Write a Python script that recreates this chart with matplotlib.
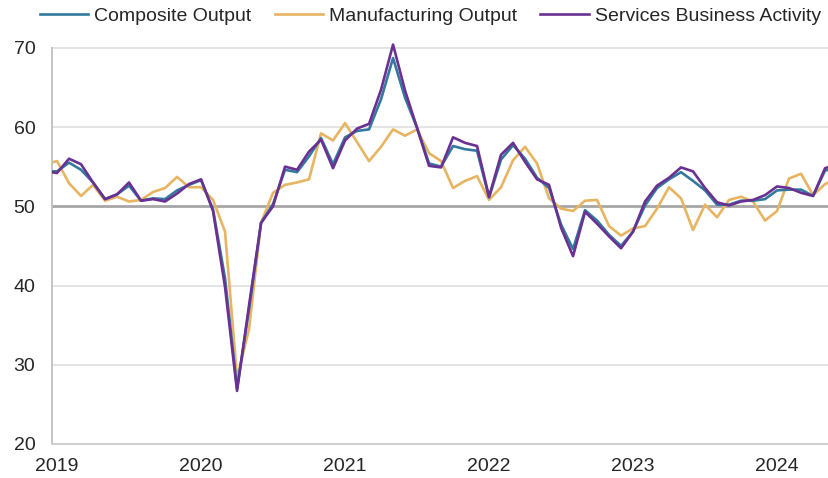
import matplotlib
matplotlib.use("Agg")
import matplotlib.pyplot as plt
import numpy as np

plt.rcParams['font.family'] = ['Liberation Sans', 'DejaVu Sans']

# Monthly series, Dec 2018 .. Jun 2024
composite = [54.4,
    54.4, 55.5, 54.6, 53.0, 50.9, 51.5, 52.6, 50.7, 51.0, 50.9, 52.0, 52.7,
    53.3, 49.6, 40.9, 27.0, 37.0, 47.9, 50.3, 54.6, 54.3, 56.3, 58.6, 55.3,
    58.7, 59.5, 59.7, 63.5, 68.7, 63.7, 59.9, 55.4, 55.0, 57.6, 57.2, 57.0,
    51.1, 55.9, 57.7, 56.0, 53.6, 52.3, 47.7, 44.6, 49.5, 48.2, 46.4, 45.0,
    46.8, 50.1, 52.3, 53.4, 54.3, 53.2, 52.0, 50.2, 50.2, 50.7, 50.7, 50.9,
    52.0, 52.1, 52.1, 51.3, 54.5, 54.8]
manufacturing = [55.3,
    55.7, 52.9, 51.3, 52.7, 50.7, 51.2, 50.6, 50.8, 51.8, 52.3, 53.7, 52.4,
    52.4, 50.8, 46.8, 28.3, 34.5, 47.9, 51.7, 52.7, 53.0, 53.4, 59.2, 58.3,
    60.5, 58.1, 55.7, 57.5, 59.7, 58.9, 59.7, 56.7, 55.7, 52.3, 53.2, 53.8,
    50.8, 52.4, 55.8, 57.5, 55.4, 51.0, 49.7, 49.4, 50.7, 50.8, 47.5, 46.3,
    47.2, 47.5, 49.7, 52.4, 51.0, 47.0, 50.2, 48.6, 50.8, 51.2, 50.6, 48.2,
    49.4, 53.5, 54.1, 51.4, 52.8, 53.5]
services = [54.4,
    54.2, 56.0, 55.3, 53.0, 50.9, 51.5, 53.0, 50.7, 50.9, 50.6, 51.6, 52.8,
    53.4, 49.4, 39.8, 26.7, 37.5, 47.9, 50.0, 55.0, 54.6, 56.9, 58.4, 54.8,
    58.3, 59.8, 60.4, 64.7, 70.4, 64.6, 59.9, 55.1, 54.9, 58.7, 58.0, 57.6,
    51.2, 56.5, 58.0, 55.6, 53.4, 52.7, 47.3, 43.7, 49.3, 47.8, 46.2, 44.7,
    46.8, 50.6, 52.6, 53.6, 54.9, 54.4, 52.3, 50.5, 50.1, 50.6, 50.8, 51.4,
    52.5, 52.3, 51.7, 51.3, 54.8, 55.3]
year_labels = ['2019', '2020', '2021', '2022', '2023', '2024']
y_ticks = [20, 30, 40, 50, 60, 70]

months = np.arange(len(composite)) - 1  # 0 = Jan 2019

fig = plt.figure(figsize=(8.29, 4.78), dpi=100)
ax = fig.add_axes([52/829, 1 - 444/478, 1 - 52/829, (444 - 43)/478])

text_color = '#262626'
for y in [30, 40, 60, 70]:
    ax.axhline(y, color='#e2e2e2', lw=1.3, zorder=0)
ax.axhline(50, color='#a6a6a6', lw=2.0, zorder=1)

lw = 1.9
ax.plot(months, manufacturing, color='#e7b461', lw=lw, label='Manufacturing Output', zorder=2)
ax.plot(months, composite, color='#33799e', lw=lw, label='Composite Output', zorder=3)
ax.plot(months, services, color='#6a3092', lw=lw, label='Services Business Activity', zorder=4)

ax.set_xlim(-0.42, 64.33)
ax.set_ylim(20, 70.6)
ax.set_yticks(y_ticks)
ax.set_yticklabels([str(v) for v in y_ticks])
ax.set_xticks([12 * k for k in range(len(year_labels))])
ax.set_xticklabels(year_labels)
ax.tick_params(axis='both', length=0, labelsize=14, colors=text_color)
ax.tick_params(axis='y', pad=12)
ax.tick_params(axis='x', pad=10)

for s in ['top', 'right']:
    ax.spines[s].set_visible(False)
ax.spines['left'].set_color('#bfbfbf')
ax.spines['bottom'].set_color('#d0d0d0')
ax.spines['left'].set_linewidth(1.3)
ax.spines['bottom'].set_linewidth(1.5)
ax.spines['left'].set_bounds(20, 70)

handles, labels = ax.get_legend_handles_labels()
order = [1, 0, 2]
leg = fig.legend([handles[i] for i in order], [labels[i] for i in order],
                 loc='center', bbox_to_anchor=(0.519, 0.967), ncol=3, frameon=False,
                 fontsize=14, handlelength=2.5, handletextpad=0.3, columnspacing=1.2)
for t in leg.get_texts():
    t.set_color(text_color)

fig.savefig('out.png', dpi=100)
